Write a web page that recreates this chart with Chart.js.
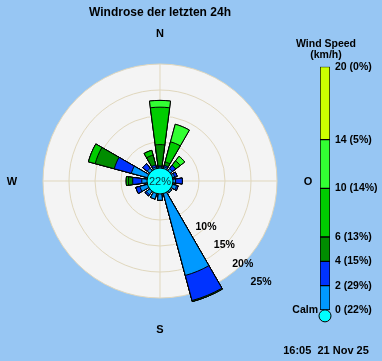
<!DOCTYPE html>
<html><head><meta charset="utf-8">
<script src="https://cdn.jsdelivr.net/npm/chart.js@4.4.1/dist/chart.umd.min.js"></script>
<style>
html,body{margin:0;padding:0;background:#97c6f3;}
#wrap{position:relative;width:382px;height:361px;overflow:hidden;background:#97c6f3;}
#rose{position:absolute;left:0;top:0;}
#leg{position:absolute;left:270px;top:0;}
</style></head><body>
<div id="wrap"><canvas id="rose" width="382" height="361"></canvas><canvas id="leg" width="112" height="361"></canvas></div>
<script>
// ---------- data ----------
const directions = ['N','NNO','NO','ONO','O','OSO','SO','SSO','S','SSW','SW','WSW','W','WNW','NW','NNW'];
const compassLabels = ['N','O','S','W'];
const speedBins = ['0-2','2-4','4-6','6-10','10-14','14-20'];
const speedTicks = [0,2,4,6,10,14,20];
const speedShares = [22,29,15,13,14,5,0];   // % shown next to each legend tick
const calmPct = 22;
// % of time per direction for each speed bin (N ... NNW)
const speed0_2   = [0.2,0.3,0.5,0.4,0.5,0.8,0.3,16.3,1.2,1.1,0.8,1.5,1.0,3.2,0.6,0.3];
const speed2_4   = [0.2,0.3,0.8,0.5,1.3,0.3,0,5.0,0,0,0.3,0.8,1.75,3.4,1.1,0.4];
const speed4_6   = [4.1,0.7,0,0,0,0,0,0.2,0,0,0,0,0.85,3.8,0,1.95];
const speed6_10  = [7.2,4.0,1.1,0,0,0,0,0,0,0,0,0,0.4,1.35,0,0.95];
const speed10_14 = [1.3,3.5,1.1,0,0,0,0,0,0,0,0,0,0,0,0,0];
const speed14_20 = [0,0,0,0,0,0,0,0,0,0,0,0,0,0,0,0];
const ringLabelValues = [10,15,20,25];
const title = 'Windrose der letzten 24h';
const legendTitle = ['Wind Speed','(km/h)'];
const stamp = '16:05  21 Nov 25';

// ---------- styles ----------
const binColors = ['#0099ff','#0033ff','#008c00','#00cc00','#33ff33','#ccff00'];
const calmColor = '#00ffff';
const FONT = '"Liberation Sans", Arial, Helvetica, sans-serif';
Chart.defaults.font.family = FONT;
Chart.defaults.color = '#000';

// ---------- slot layout (wedges separated by gaps) ----------
const rMin = -2.5, rMax = 20;
const DIRS = directions.length;
const wedgeDeg = 15, gapDeg = 360 / DIRS - wedgeDeg;
const slotDir = [-1], slotAngle = [gapDeg / 2];
for (let d = 0; d < DIRS; d++) {
  slotDir.push(d); slotAngle.push(wedgeDeg);
  if (d < DIRS - 1) { slotDir.push(-1); slotAngle.push(gapDeg); }
}
const slotLabels = slotDir.map(d => (d >= 0 && d % 4 === 0) ? compassLabels[d / 4] : '');
const seSlot = slotDir.indexOf(6);

const bins = [speed0_2, speed2_4, speed4_6, speed6_10, speed10_14, speed14_20];
let running = new Array(DIRS).fill(0);
const roseDatasets = bins.map((arr, b) => {
  running = running.map((v, i) => v + arr[i]);
  const cum = running.slice();
  return {
    label: speedBins[b],
    data: slotDir.map(d => d < 0 ? rMin : cum[d]),
    backgroundColor: ctx => slotDir[ctx.dataIndex] < 0 ? 'rgba(0,0,0,0)' : binColors[b],
    borderColor: '#000',
    borderWidth: ctx => slotDir[ctx.dataIndex] < 0 ? 0 : 1,
    angle: ctx => slotAngle[ctx.dataIndex],
    clip: false
  };
});

const roseExtras = {
  id: 'roseExtras',
  afterDatasetsDraw(chart) {
    const s = chart.scales.r, ctx = chart.ctx;
    const rc = s.getDistanceFromCenterForValue(0);
    ctx.save();
    ctx.beginPath();
    ctx.arc(s.xCenter, s.yCenter, rc, 0, Math.PI * 2);
    ctx.fillStyle = calmColor; ctx.fill();
    ctx.lineWidth = 1; ctx.strokeStyle = '#000'; ctx.stroke();
    ctx.textAlign = 'center'; ctx.textBaseline = 'middle';
    ctx.fillStyle = '#0a3038';
    ctx.font = '11px ' + FONT;
    ctx.fillText(calmPct + '%', s.xCenter, s.yCenter + 0.5);
    ctx.fillStyle = '#000';
    ctx.font = 'bold 10.5px ' + FONT;
    ringLabelValues.forEach(v => {
      const p = s.getPointPosition(seSlot, s.getDistanceFromCenterForValue(v));
      ctx.fillText(v + '%', p.x, p.y);
    });
    ctx.font = 'bold 11px ' + FONT;
    slotLabels.forEach((t, i) => {
      if (!t) return;
      const p = s.getPointPosition(i, s.drawingArea + 31);
      ctx.fillText(t, p.x, p.y + 0.5);
    });
    ctx.restore();
  }
};

new Chart(document.getElementById('rose'), {
  type: 'polarArea',
  data: { labels: slotLabels, datasets: roseDatasets },
  options: {
    responsive: false, animation: false, events: [],
    layout: { padding: { left: 43, right: 105, top: 0, bottom: 63 } },
    plugins: {
      legend: { display: false }, tooltip: { enabled: false },
      title: { display: true, text: title, color: '#000',
        font: { size: 12, weight: 'bold', lineHeight: 1.2 },
        padding: { top: 5, bottom: 44.6 } }
    },
    scales: {
      r: {
        min: rMin, max: rMax, startAngle: -360 / (2 * DIRS) * 1,
        backgroundColor: '#f4f4f4',
        grid: { circular: true, color: '#e0d7bd', lineWidth: 1 },
        angleLines: { display: true,
          color: ctx => slotLabels[ctx.index] ? '#e0d7bd' : 'rgba(0,0,0,0)',
          lineWidth: ctx => slotLabels[ctx.index] ? 1 : 0 },
        pointLabels: { display: false },
        ticks: { display: false },
        afterBuildTicks: sc => { sc.ticks = [rMin, 5, 10, 15, 20].map(v => ({ value: v })); }
      }
    }
  },
  plugins: [roseExtras]
});

// ---------- legend colour bar ----------
const legDatasets = speedBins.map((b, i) => ({
  type: 'bar', label: b,
  data: [[speedTicks[i], speedTicks[i + 1]]],
  backgroundColor: binColors[i], borderColor: '#000', borderWidth: 1, borderSkipped: false,
  grouped: false, barPercentage: 1, categoryPercentage: 1, yAxisID: 'y'
}));
legDatasets.push({
  type: 'line', label: 'Calm', data: [-0.48], showLine: false, yAxisID: 'y', order: -1,
  pointRadius: 6, pointBackgroundColor: calmColor, pointBorderColor: '#000', pointBorderWidth: 1, clip: false
});

new Chart(document.getElementById('leg'), {
  type: 'bar',
  data: { labels: [''], datasets: legDatasets },
  options: {
    responsive: false, animation: false, events: [],
    layout: { padding: 0 },
    plugins: {
      legend: { display: false }, tooltip: { enabled: false },
      title: { display: true, text: legendTitle, color: '#000',
        font: { size: 10.5, weight: 'bold', lineHeight: '11px' },
        padding: { top: 38.5, bottom: 6.2 } },
      subtitle: { display: true, text: stamp, position: 'bottom', color: '#000',
        font: { size: 11, weight: 'bold', lineHeight: 1.2 },
        padding: { top: 21.9, bottom: 3.7 } }
    },
    scales: {
      x: { display: false, offset: true },
      y: { type: 'linear', position: 'right', min: -1, max: 20,
        grid: { display: false, drawTicks: false }, border: { display: false },
        ticks: { padding: 5, color: '#000', font: { size: 10.5, weight: 'bold' },
          callback: v => v + ' (' + speedShares[speedTicks.indexOf(v)] + '%)' },
        afterBuildTicks: sc => { sc.ticks = speedTicks.map(v => ({ value: v })); },
        afterFit: sc => { sc.width = 52; } },
      yc: { type: 'linear', position: 'left', min: -1, max: 20,
        grid: { display: false, drawTicks: false }, border: { display: false },
        ticks: { padding: 2, color: '#000', font: { size: 10.5, weight: 'bold' }, callback: () => 'Calm' },
        afterBuildTicks: sc => { sc.ticks = [{ value: 0 }]; },
        afterFit: sc => { sc.width = 50; } }
    }
  }
});
</script>
</body></html>
